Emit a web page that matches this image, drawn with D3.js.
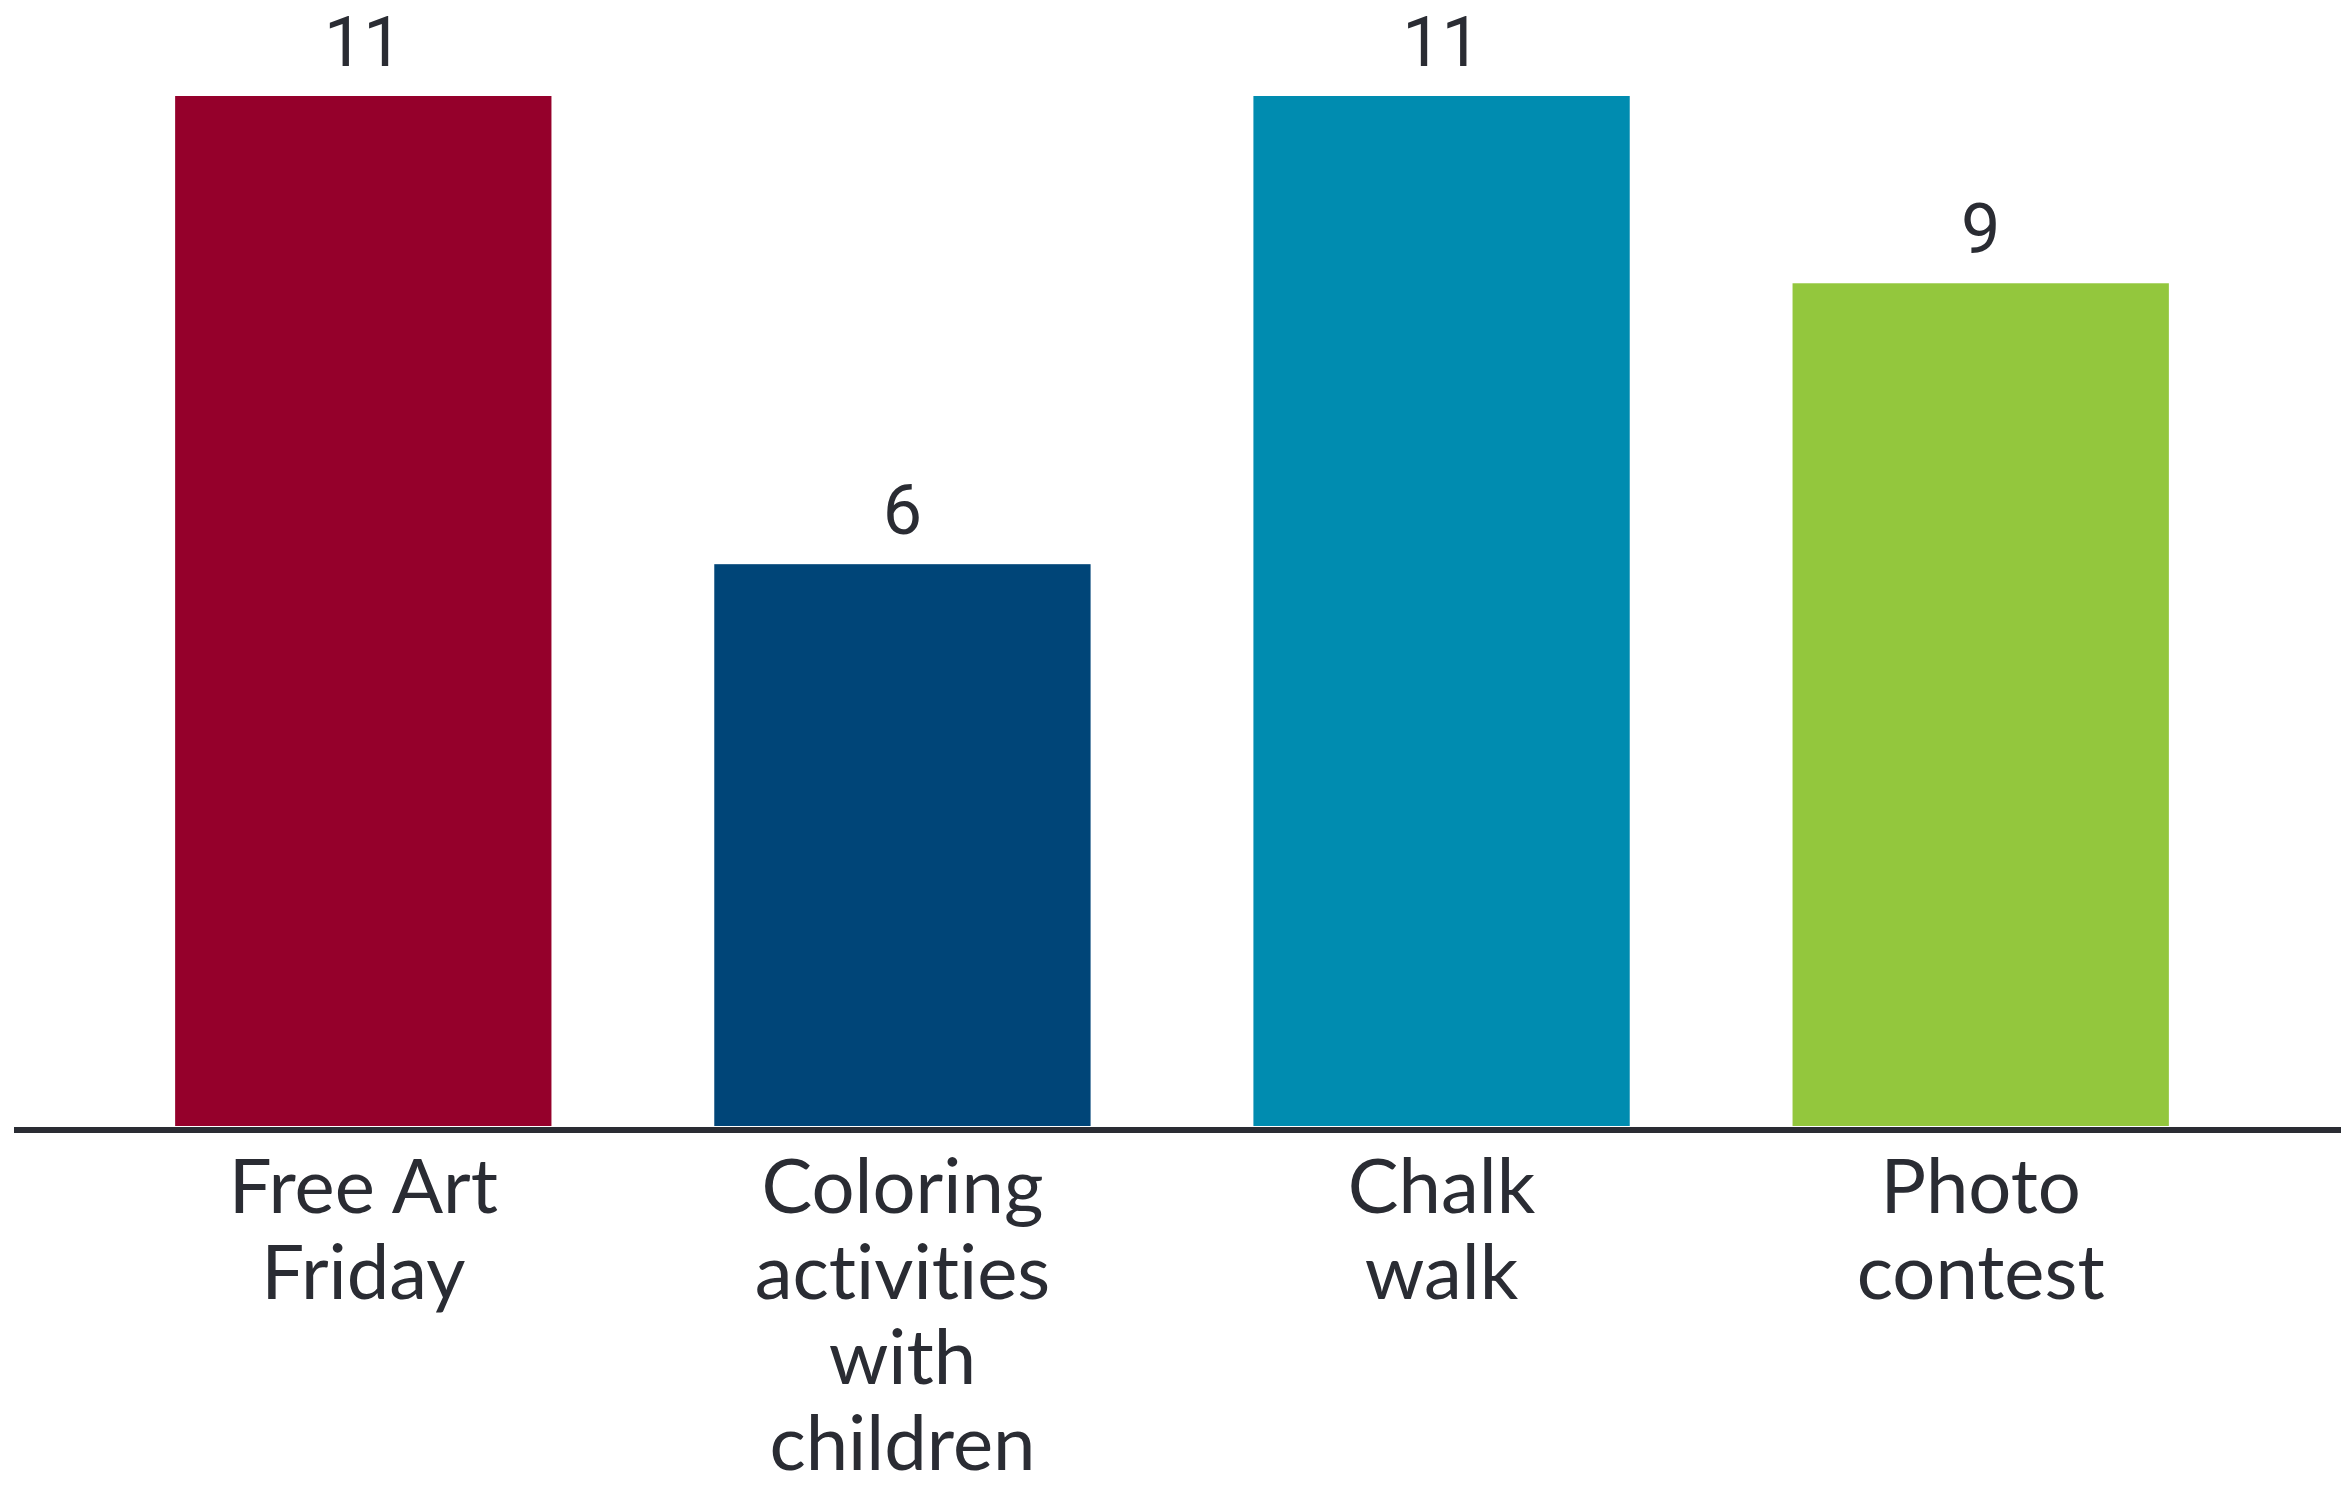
<!DOCTYPE html>
<html><head><meta charset="utf-8">
<script src="https://cdn.jsdelivr.net/npm/d3@7"></script>
<style>html,body{margin:0;padding:0;background:#fff;}svg{display:block;}text{font-variant-ligatures:none;font-feature-settings:"liga" 0;}</style>
</head><body>
<svg id="chart" width="2341" height="1491"></svg>
<script>
const categories = ["Free Art Friday", "Coloring activities with children", "Chalk walk", "Photo contest"];
const labelLines = [["Free Art", "Friday"], ["Coloring", "activities", "with", "children"], ["Chalk", "walk"], ["Photo", "contest"]];
const values = [11, 6, 11, 9];
const colors = ["#95002B", "#004578", "#008CB0", "#93C73D"];

const svg = d3.select("#chart");
const font = "Lato, 'Noto Sans', sans-serif";
const numFont = "Roboto, Lato, sans-serif";
const textColor = "#2a2c33";

const x = d3.scaleBand().domain(categories).range([8, 2336]).paddingInner(0.302).paddingOuter(0.31);
const y = d3.scaleLinear().domain([0, 11]).range([1126, 96]);

svg.selectAll("rect.bar").data(values).join("rect")
  .attr("class", "bar")
  .attr("x", (d, i) => x(categories[i]))
  .attr("width", x.bandwidth())
  .attr("y", d => y(d))
  .attr("height", d => y(0) - y(d))
  .attr("fill", (d, i) => colors[i]);

svg.selectAll("text.val").data(values).join("text")
  .attr("class", "val")
  .attr("x", (d, i) => x(categories[i]) + x.bandwidth() / 2)
  .attr("y", d => y(d) - 30)
  .attr("text-anchor", "middle")
  .attr("font-family", numFont)
  .attr("font-size", 70)
  .attr("fill", textColor)
  .text(d => d);

// axis baseline
const axis = d3.axisBottom(x).tickSize(0).tickFormat("");
const gAxis = svg.append("g").attr("transform", "translate(0,1130)").call(axis);
gAxis.select(".domain").remove();
svg.append("line").attr("x1", 14).attr("x2", 2341).attr("y1", 1130).attr("y2", 1130)
  .attr("stroke", "#2a2c33").attr("stroke-width", 6);

const lab = svg.selectAll("text.cat").data(categories).join("text")
  .attr("class", "cat")
  .attr("text-anchor", "middle")
  .attr("font-family", font)
  .attr("font-size", 76)
  .attr("fill", textColor);
lab.each(function(d, i) {
  const t = d3.select(this);
  labelLines[i].forEach((ln, j) => {
    t.append("tspan").attr("x", x(d) + x.bandwidth() / 2).attr("y", 1213 + j * 85.5).text(ln);
  });
});
</script>
</body></html>
